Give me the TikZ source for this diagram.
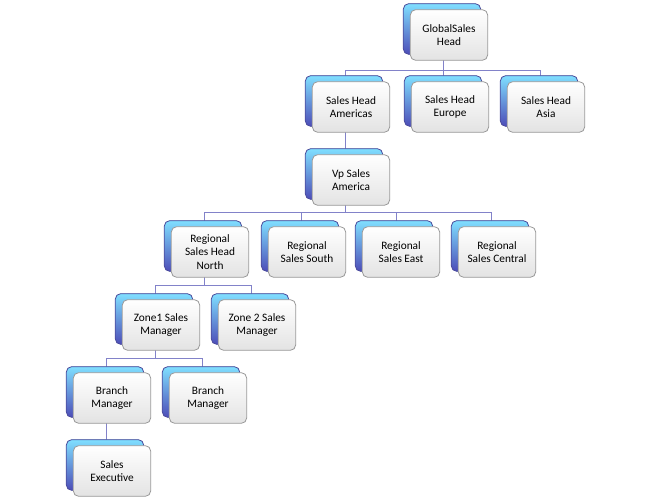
\documentclass[tikz,border=0pt]{standalone}
\usepackage{fontspec}
\setmainfont{Carlito}
\begin{document}
\begin{tikzpicture}[x=0.75pt,y=-0.75pt,
 back/.style={draw=blue!45!black!70, fill=blue!55!cyan!40!black!60, top color=blue!25!cyan!50!white, bottom color=blue!60!black!70,rounded corners=4pt, minimum width=58pt, minimum height=38pt, line width=0.6pt},
 front/.style={draw=gray!80, top color=white, bottom color=gray!22, rounded corners=4pt, minimum width=58pt, minimum height=38pt, align=center, font=\fontsize{8.5}{10}\selectfont, inner sep=1pt, line width=0.6pt},
 conn/.style={draw=blue!40!gray!70, line width=0.6pt}]
\useasboundingbox (0,0) rectangle (653,500);
\newcommand\obox[4]{%
 \node[back] (#1b) at ({#2-7},{#3-6}) {};
 \node[front] (#1) at (#2,#3) {#4};}
% connectors first
\coordinate (g0) at (443,70);
\draw[conn] (443,30) -- (443,70);
\draw[conn] (345,70) -- (540,70);
\foreach \x in {345,443,540} \draw[conn] (\x,70) -- (\x,80);
\draw[conn] (345,110) -- (345,150);
\draw[conn] (345,180) -- (345,212);
\draw[conn] (204,212) -- (491,212);
\foreach \x in {204,301,396,491} \draw[conn] (\x,212) -- (\x,222);
\draw[conn] (204,250) -- (204,285);
\draw[conn] (155,285) -- (251,285);
\foreach \x in {155,251} \draw[conn] (\x,285) -- (\x,295);
\draw[conn] (155,320) -- (155,358);
\draw[conn] (106,358) -- (202,358);
\foreach \x in {106,202} \draw[conn] (\x,358) -- (\x,368);
\draw[conn] (106,395) -- (106,440);
\obox{g}{449}{35}{GlobalSales\\Head}
\obox{am}{351}{107}{Sales Head\\Americas}
\obox{eu}{450}{107}{Sales Head\\Europe}
\obox{as}{546}{107}{Sales Head\\Asia}
\obox{vp}{351}{180}{Vp Sales\\America}
\obox{rn}{210}{252}{Regional\\Sales Head\\North}
\obox{rs}{307}{252}{Regional\\Sales South}
\obox{re}{401}{252}{Regional\\Sales East}
\obox{rc}{497}{252}{Regional\\Sales Central}
\obox{z1}{161}{325}{Zone1 Sales\\Manager}
\obox{z2}{257}{325}{Zone 2 Sales\\Manager}
\obox{b1}{112}{398}{Branch\\Manager}
\obox{b2}{208}{398}{Branch\\Manager}
\obox{se}{112}{471}{Sales\\Executive}
\end{tikzpicture}
\end{document}
